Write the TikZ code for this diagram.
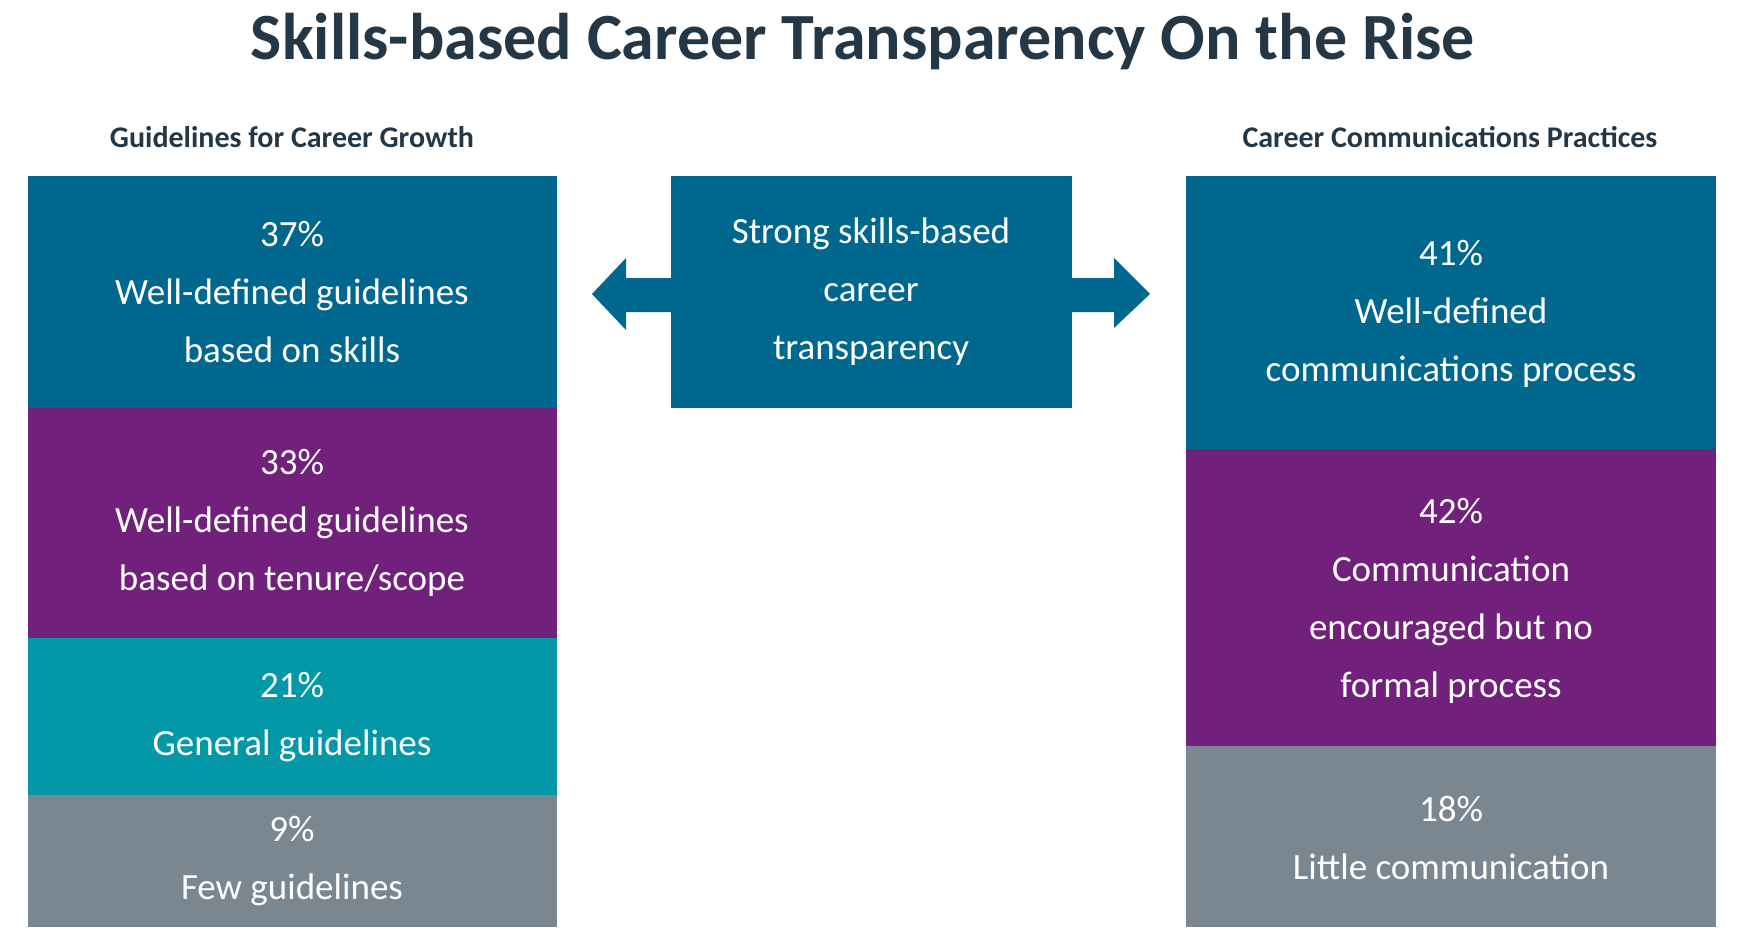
\documentclass[tikz,border=0pt]{standalone}
\usepackage{fontspec}
\setmainfont{Carlito}
\definecolor{cblue}{HTML}{00678E}
\definecolor{cpurple}{HTML}{71217C}
\definecolor{cteal}{HTML}{0398A8}
\definecolor{cgray}{HTML}{7A8690}
\definecolor{ctitle}{HTML}{243746}
\begin{document}
\begin{tikzpicture}[x=1pt,y=-1pt,
  box/.style={fill=#1,draw=none},
  lbl/.style={text=white,align=center,font=\fontsize{37}{58}\selectfont},
  hdr/.style={text=ctitle,font=\bfseries\fontsize{30}{36}\selectfont}]
\useasboundingbox (0,0) rectangle (1738,938);
\fill[cblue] (28,176) rectangle (557,408);
\fill[cpurple] (28,408) rectangle (557,638);
\fill[cteal] (28,638) rectangle (557,795);
\fill[cgray] (28,795) rectangle (557,927);
\fill[cblue] (1186,176) rectangle (1716,449);
\fill[cpurple] (1186,449) rectangle (1716,746);
\fill[cgray] (1186,746) rectangle (1716,927);
\fill[cblue] (671,176) rectangle (1072,408);
\fill[cblue] (671,278) -- (626,278) -- (626,258) -- (592,294) -- (626,330) -- (626,312) -- (671,312) -- cycle;
\fill[cblue] (1072,278) -- (1114,278) -- (1114,258) -- (1150,294) -- (1114,328) -- (1114,312) -- (1072,312) -- cycle;
\node[text=ctitle,font=\bfseries\fontsize{66}{70}\selectfont] (title) at (863,42) {Skills-based Career Transparency On the Rise};
\node[hdr] (hl) at (292,137) {Guidelines for Career Growth};
\node[hdr] (hr) at (1450,137) {Career Communications Practices};
\node[lbl] (a) at (292,292) {37\%\\Well-defined guidelines\\based on skills};
\node[lbl] (b) at (292,523) {33\%\\Well-defined guidelines\\based on tenure/scope};
\node[lbl] (c) at (292,717) {21\%\\General guidelines};
\node[lbl] (d) at (292,861) {9\%\\Few guidelines};
\node[lbl] (m) at (871,292) {Strong skills-based\\career\\transparency};
\node[lbl] (e) at (1451,314) {41\%\\Well-defined\\communications process};
\node[lbl] (f) at (1451,601) {42\%\\Communication\\encouraged but no\\formal process};
\node[lbl] (g) at (1451,838) {18\%\\Little communication};
\end{tikzpicture}
\end{document}
